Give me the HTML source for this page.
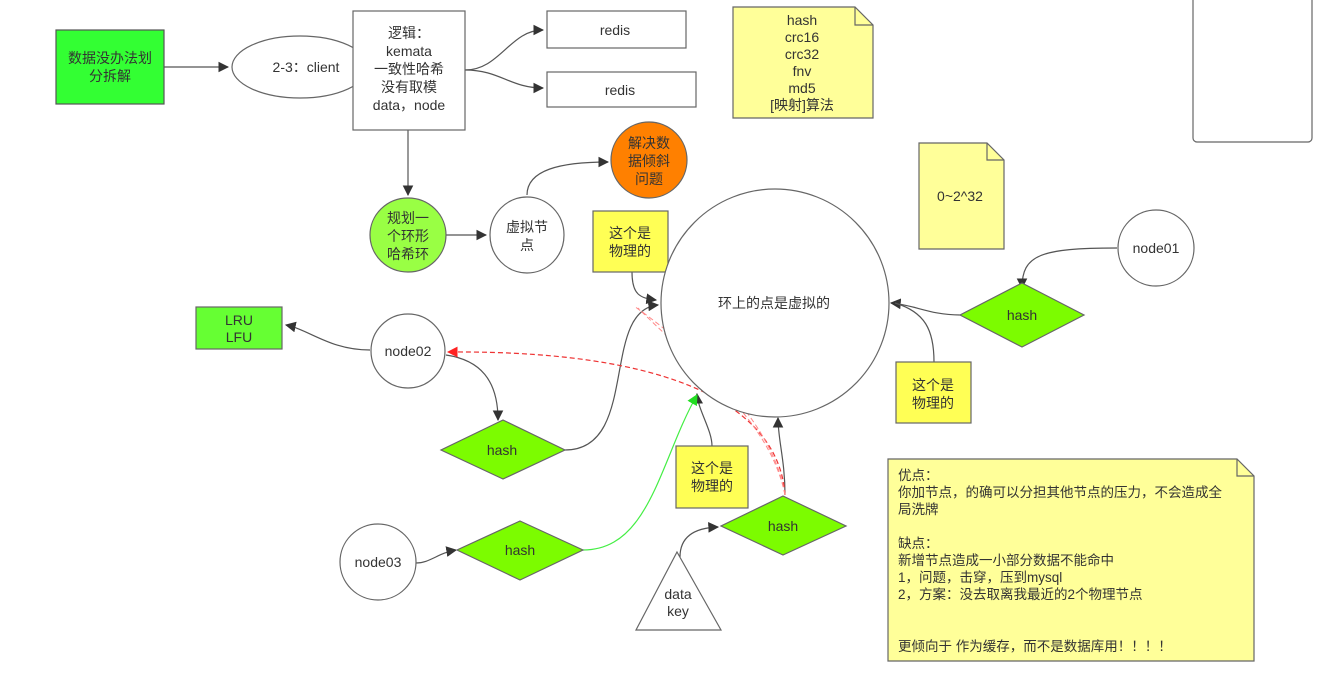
<!DOCTYPE html>
<html><head><meta charset="utf-8"><style>
body{margin:0;background:#fff;}
svg{display:block;font-family:"Liberation Sans","Noto Sans CJK SC",sans-serif;font-size:14px;fill:#333;}
</style></head><body>
<svg width="1319" height="681" viewBox="0 0 1319 681" xmlns="http://www.w3.org/2000/svg">
<defs>
<marker id="a" viewBox="0 0 10 10" refX="9" refY="5" markerWidth="9" markerHeight="9" orient="auto"><path d="M0,0L10,5L0,10z" fill="#333"/></marker>
<marker id="r" viewBox="0 0 10 10" refX="9" refY="5" markerWidth="9" markerHeight="9" orient="auto"><path d="M0,0L10,5L0,10z" fill="#f22"/></marker>
<marker id="g" viewBox="0 0 10 10" refX="9" refY="5" markerWidth="9" markerHeight="9" orient="auto"><path d="M0,0L10,5L0,10z" fill="#2d2"/></marker>
</defs>
<g stroke="#555" stroke-width="1.2" fill="none">
<path d="M164,67H228" marker-end="url(#a)"/>
<path d="M465,70C500,70 510,30 543,30" marker-end="url(#a)"/>
<path d="M465,70C500,70 510,88 543,88" marker-end="url(#a)"/>
<path d="M408,130V195" marker-end="url(#a)"/>
<path d="M446,235H486" marker-end="url(#a)"/>
<path d="M527,195C527,170 560,162 608,162" marker-end="url(#a)"/>
<path d="M632,272C632,295 640,298 656,300" marker-end="url(#a)"/>
<path d="M370,350C330,350 310,330 286,325" marker-end="url(#a)"/>
<path d="M446,355C480,360 498,380 498,420" marker-end="url(#a)"/>
<path d="M565,450C640,450 600,310 658,305" marker-end="url(#a)"/>
<path d="M1117,248C1040,248 1022,255 1022,288" marker-end="url(#a)"/>
<path d="M960,315C930,315 915,305 891,303" marker-end="url(#a)"/>
<path d="M934,362C934,330 925,312 895,303"/>
<path d="M712,446C712,430 698,410 697,394" marker-end="url(#a)"/>
<path d="M785,495C785,460 778,440 778,418" marker-end="url(#a)"/>
<path d="M416,563C430,563 438,553 456,550" marker-end="url(#a)"/>
<path d="M680,557C680,540 690,528 718,527" marker-end="url(#a)"/>
</g>
<path d="M583,550C650,550 660,460 697,395" stroke="#4e4" stroke-width="1.2" fill="none" marker-end="url(#g)"/>
<path d="M785,495C780,420 700,350 448,352" stroke="#e33" stroke-width="1.2" stroke-dasharray="5,3" fill="none" marker-end="url(#r)"/>
<path d="M785,495C770,420 700,370 638,308" stroke="#f88" stroke-width="1" stroke-dasharray="5,3" fill="none"/>
<path d="M785,495C775,430 710,360 634,306" stroke="#f88" stroke-width="1" stroke-dasharray="5,3" fill="none"/>
<g stroke="#666" stroke-width="1.2">
<rect x="56" y="30" width="108" height="74" fill="#33ff33" stroke="#555"/>
<ellipse cx="300" cy="67" rx="68" ry="31" fill="#fff"/>
<rect x="353" y="11" width="112" height="119" fill="#fff"/>
<rect x="547" y="11" width="139" height="37" fill="#fff"/>
<rect x="547" y="72" width="149" height="35" fill="#fff"/>
<path d="M733,7H855L873,25V118H733Z" fill="#ffff99"/><path d="M855,7V25H873" fill="none"/>
<path d="M919,143H987L1004,160V249H919Z" fill="#ffff99"/><path d="M987,143V160H1004" fill="none"/>
<rect x="1193" y="-5" width="119" height="147" rx="4" fill="#fff"/>
<circle cx="649" cy="160" r="38" fill="#ff8000"/>
<ellipse cx="408" cy="235" rx="38" ry="37" fill="#99ff44"/>
<ellipse cx="527" cy="235" rx="37" ry="38" fill="#fff"/>
<rect x="593" y="211" width="75" height="61" fill="#ffff55"/>
<circle cx="775" cy="303" r="114" fill="#fff"/>
<circle cx="1156" cy="248" r="38" fill="#fff"/>
<path d="M1022,283L1084,315L1022,347L960,315Z" fill="#7cfc00"/>
<rect x="196" y="307" width="86" height="42" fill="#66ff33"/>
<circle cx="408" cy="351" r="37" fill="#fff"/>
<rect x="896" y="362" width="75" height="61" fill="#ffff55"/>
<path d="M503,420L565,450L503,479L441,450Z" fill="#7cfc00"/>
<rect x="676" y="446" width="72" height="62" fill="#ffff55"/>
<path d="M783,496L846,526L783,555L721,526Z" fill="#7cfc00"/>
<path d="M888,459H1237L1254,476V661H888Z" fill="#ffff99"/><path d="M1237,459V476H1254" fill="none"/>
<circle cx="378" cy="562" r="38" fill="#fff"/>
<path d="M520,521L583,550L520,580L457,550Z" fill="#7cfc00"/>
<path d="M677,552L721,630H636Z" fill="#fff"/>
</g>
<g text-anchor="middle">
<text x="110" y="63">数据没办法划</text><text x="110" y="81">分拆解</text>
<text x="306" y="72">2-3：client</text>
<text x="409" y="38">逻辑：</text><text x="409" y="56">kemata</text><text x="409" y="74">一致性哈希</text><text x="409" y="92">没有取模</text><text x="409" y="110">data，node</text>
<text x="615" y="35">redis</text><text x="620" y="95">redis</text>
<text x="802" y="25">hash</text><text x="802" y="42">crc16</text><text x="802" y="59">crc32</text><text x="802" y="76">fnv</text><text x="802" y="93">md5</text><text x="802" y="110">[映射]算法</text>
<text x="960" y="201">0~2^32</text>
<text x="649" y="148">解决数</text><text x="649" y="166">据倾斜</text><text x="649" y="184">问题</text>
<text x="408" y="223">规划一</text><text x="408" y="241">个环形</text><text x="408" y="259">哈希环</text>
<text x="527" y="232">虚拟节</text><text x="527" y="250">点</text>
<text x="630" y="238">这个是</text><text x="630" y="256">物理的</text>
<text x="774" y="308">环上的点是虚拟的</text>
<text x="1156" y="253">node01</text>
<text x="1022" y="320">hash</text>
<text x="239" y="325">LRU</text><text x="239" y="342">LFU</text>
<text x="408" y="356">node02</text>
<text x="933" y="390">这个是</text><text x="933" y="408">物理的</text>
<text x="502" y="455">hash</text>
<text x="712" y="473">这个是</text><text x="712" y="491">物理的</text>
<text x="783" y="531">hash</text>
<text x="378" y="567">node03</text>
<text x="520" y="555">hash</text>
<text x="678" y="599">data</text><text x="678" y="616">key</text>
</g>
<g font-size="13.5">
<text x="898" y="480">优点：</text>
<text x="898" y="497">你加节点，的确可以分担其他节点的压力，不会造成全</text>
<text x="898" y="514">局洗牌</text>
<text x="898" y="548">缺点：</text>
<text x="898" y="565">新增节点造成一小部分数据不能命中</text>
<text x="898" y="582">1，问题，击穿，压到mysql</text>
<text x="898" y="599">2，方案：没去取离我最近的2个物理节点</text>
<text x="898" y="651">更倾向于 作为缓存，而不是数据库用！！！！</text>
</g>
</svg>
</body></html>
